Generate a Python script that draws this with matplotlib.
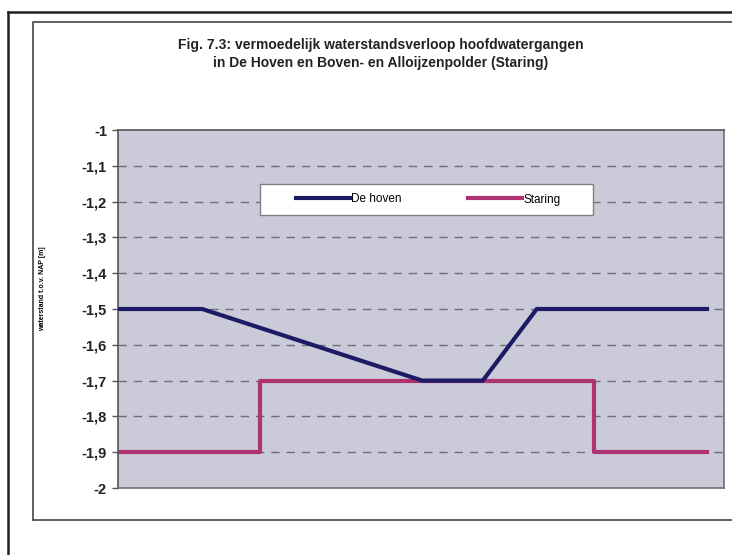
# coding: utf-8

"""
Fig. 7.3: vermoedelijk waterstandsverloop (De Hoven / Staring)
"""

import matplotlib
matplotlib.use("Agg")
import matplotlib.pyplot as plt
from matplotlib.lines import Line2D
from matplotlib.patches import Rectangle

# Data
hoven_x = [0, 13.9, 50.2, 60.2, 69.1, 97.2]
hoven_y = [-1.5, -1.5, -1.7, -1.7, -1.5, -1.5]

staring_x = [0, 23.4, 23.4, 78.5, 78.5, 97.2]
staring_y = [-1.9, -1.9, -1.7, -1.7, -1.9, -1.9]

yticks = [-1, -1.1, -1.2, -1.3, -1.4, -1.5, -1.6, -1.7, -1.8, -1.9, -2]
ytick_labels = ["-1", "-1,1", "-1,2", "-1,3", "-1,4", "-1,5", "-1,6", "-1,7", "-1,8", "-1,9", "-2"]

title = "Fig. 7.3: vermoedelijk waterstandsverloop hoofdwatergangen\nin De Hoven en Boven- en Alloijzenpolder (Staring)"

def main():
	plt.rcParams['font.family'] = ['Liberation Sans', 'DejaVu Sans']
	fig = plt.figure(figsize=(7.32, 5.55), dpi=100)
	W, H = 732.0, 555.0

	# Frames (scan borders)
	fig.add_artist(Line2D([8/W, 8/W], [0, 1-12/H], color="#222222", lw=1.8))
	fig.add_artist(Line2D([8/W, 1], [1-12/H, 1-12/H], color="#222222", lw=1.8))
	fig.add_artist(Line2D([33/W, 33/W, 1], [1-520/H, 1-22/H, 1-22/H], color="#444444", lw=1.2))
	fig.add_artist(Line2D([33/W, 1], [1-520/H, 1-520/H], color="#444444", lw=1.2))

	# Plot area: x 118..724, y 130..488 px
	aw, ah = 606.0, 358.0
	ax = fig.add_axes([118/W, 1-488/H, aw/W, ah/H])
	ax.set_facecolor("#cbcad8")

	# Grid
	for y in yticks[1:-1]:
		ax.axhline(y, color="#6e6e78", lw=1, dashes=(6, 5), zorder=1)

	ax.plot(hoven_x, hoven_y, color="#1c1b66", lw=3, label="De hoven", zorder=3)
	ax.plot(staring_x, staring_y, color="#b03272", lw=3, label="Staring", zorder=2)

	ax.set_xlim(0, 100)
	ax.set_ylim(-2, -1)
	ax.set_xticks([])
	ax.set_yticks(yticks)
	ax.set_yticklabels(ytick_labels, fontsize=10.5, fontweight="bold", color="#222222")
	ax.tick_params(axis="y", length=4, width=1, color="#555555", pad=4)
	for s in ax.spines.values():
		s.set_color("#707070")
		s.set_linewidth(1.2)
	ax.spines["left"].set_color("#555555")
	ax.spines["top"].set_color("#555555")

	ax.set_ylabel("waterstand t.o.v. NAP [m]", fontsize=5, fontweight="bold")
	ax.yaxis.set_label_coords((46-118)/aw, (488-289)/ah)

	fig.text(381/W, 1-54/H, title, ha="center", va="center", fontsize=10,
		fontweight="bold", color="#222222", linespacing=1.3)

	# Legend box 260..593 x 184..215 px
	ax.add_patch(Rectangle(((260-118)/aw, (488-215)/ah), 333/aw, 31/ah,
		transform=ax.transAxes, facecolor="white", edgecolor="#808080", lw=1, zorder=4))
	leg = ax.legend(loc="center", bbox_to_anchor=((428-118)/aw, (488-199.5)/ah),
		ncol=2, fontsize=8.5, frameon=False, handlelength=4.6,
		columnspacing=5.6, handletextpad=0.1)
	leg.set_zorder(5)

	fig.savefig("out.png", dpi=100)

if __name__ == "__main__":
	main()
